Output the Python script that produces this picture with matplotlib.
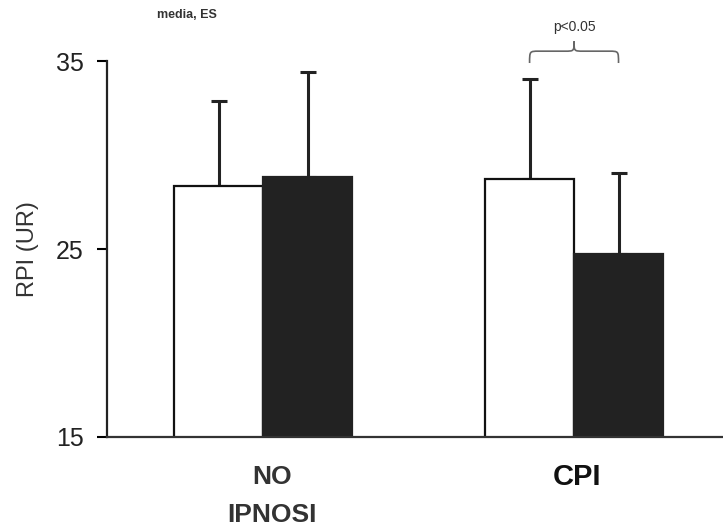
import matplotlib
matplotlib.use("Agg")
import matplotlib.pyplot as plt
from matplotlib.path import Path
from matplotlib.patches import PathPatch

plt.rcParams['font.family'] = ['Liberation Sans', 'DejaVu Sans']

groups = ["NO\nIPNOSI", "CPI"]
white_means = [28.35, 28.72]
white_es = [4.52, 5.32]
black_means = [28.83, 24.73]
black_es = [5.58, 4.31]
yticks = [15, 25, 35]

fig = plt.figure(figsize=(7.23, 5.27), dpi=100)
ax = fig.add_axes([0.148, 0.171, 0.852, 0.713])

w = 0.286
xs = list(range(len(groups)))
xw = [x - w / 2 for x in xs]
xb = [x + w / 2 for x in xs]

ax.bar(xw, white_means, width=w, color='white', edgecolor='#111111', linewidth=1.6, zorder=2)
ax.bar(xb, black_means, width=w, color='#222222', edgecolor='#222222', linewidth=1.6, zorder=2)
ax.errorbar(xw, white_means, yerr=[[0] * len(xw), white_es], fmt='none', ecolor='#222222',
            elinewidth=2.2, capsize=5.5, capthick=2.2, zorder=1, clip_on=False)
ax.errorbar(xb, black_means, yerr=[[0] * len(xb), black_es], fmt='none', ecolor='#222222',
            elinewidth=2.2, capsize=5.5, capthick=2.2, zorder=1, clip_on=False)

ax.set_xlim(-0.502, 1.479)
ax.set_ylim(15, 35)
ax.set_yticks(yticks)
ax.set_yticklabels([str(t) for t in yticks], fontsize=18, color='#222222')
ax.tick_params(axis='y', direction='out', length=7, width=1.5, pad=10)
ax.set_xticks([])
for s in ['top', 'right']:
    ax.spines[s].set_visible(False)
ax.spines['left'].set_linewidth(1.6)
ax.spines['bottom'].set_linewidth(1.6)
ax.spines['left'].set_color('#222222')
ax.spines['bottom'].set_color('#333333')

ax.set_ylabel("RPI (UR)", fontsize=17, color='#333333', labelpad=12)

ax.text(xs[0] + 0.03, 13.5, groups[0], ha='center', va='top', fontsize=19, fontweight='bold',
        color='#333333', linespacing=1.75)
ax.text(xs[1] + 0.01, 13.6, groups[1], ha='center', va='top', fontsize=21, fontweight='bold',
        color='#111111')

ax.text(-0.244, 37.45, "media, ES", ha='center', va='center', fontsize=9, fontweight='bold',
        color='#333333', clip_on=False)

# significance brace
x0, x1 = xw[1], xb[1]
xm = (x0 + x1) / 2
y_end, y_h, y_tip = 34.9, 35.53, 36.05
d = 0.03
verts = [
    (x0, y_end), (x0, y_h), (x0, y_h), (x0 + d, y_h),
    (xm - d, y_h), (xm, y_h), (xm, y_h), (xm, y_tip),
    (xm, y_h), (xm, y_h), (xm + d, y_h),
    (x1 - d, y_h), (x1, y_h), (x1, y_h), (x1, y_end),
]
codes = [Path.MOVETO, Path.CURVE4, Path.CURVE4, Path.CURVE4,
         Path.LINETO, Path.CURVE4, Path.CURVE4, Path.CURVE4,
         Path.CURVE4, Path.CURVE4, Path.CURVE4,
         Path.LINETO, Path.CURVE4, Path.CURVE4, Path.CURVE4]
ax.add_patch(PathPatch(Path(verts, codes), facecolor='none', edgecolor='#666666', lw=1.2,
                       clip_on=False))
ax.text(xm, 36.8, "p<0.05", ha='center', va='center', fontsize=10, color='#333333', clip_on=False)

fig.savefig("out.png", dpi=100)
